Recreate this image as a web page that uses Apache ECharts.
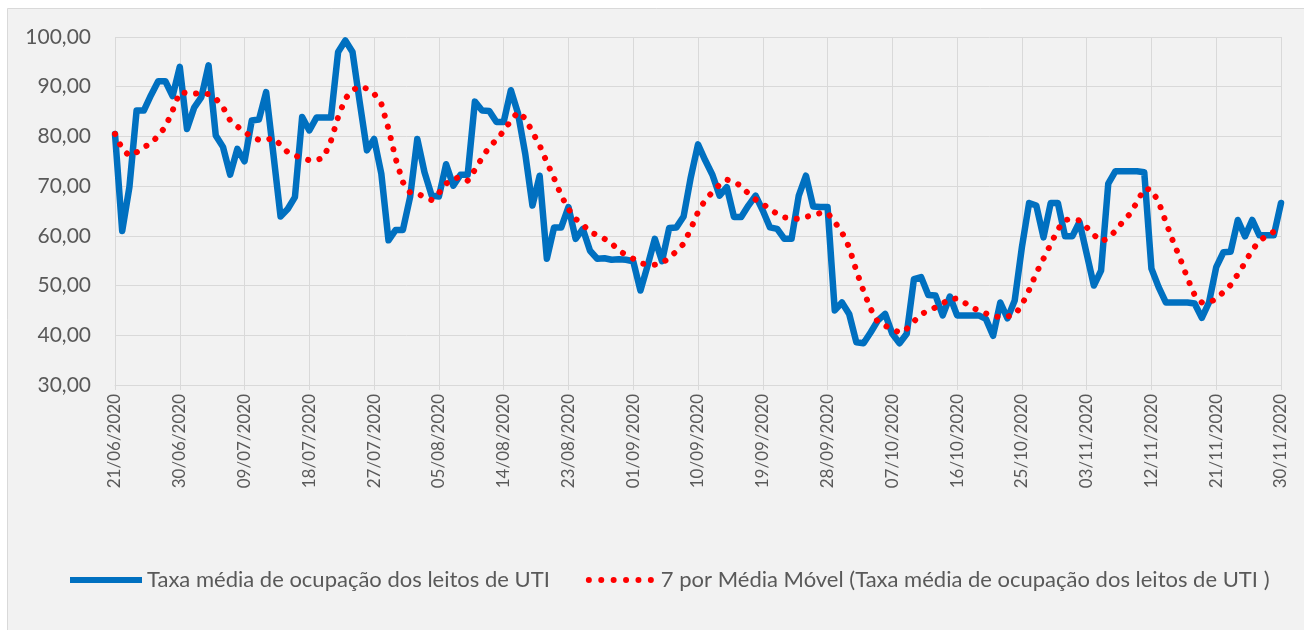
<!DOCTYPE html>
<html>
<head>
<meta charset="utf-8">
<script src="https://cdn.jsdelivr.net/npm/echarts@6/dist/echarts.min.js"></script>
<style>
html,body{margin:0;padding:0;background:#fff;}
#c{width:1304px;height:630px;}
</style>
</head>
<body>
<div id="c"></div>
<script>
// ---- data ----
const startDate = [2020, 6, 21];   // 21/06/2020
const dayCount = 163;               // 21/06/2020 .. 30/11/2020
const yTicks = [30, 40, 50, 60, 70, 80, 90, 100];
const seriesNames = [
  'Taxa média de ocupação dos leitos de UTI',
  '7 por Média Móvel (Taxa média de ocupação dos leitos de UTI )'
];
const taxa = [
  80.5,61.0,69.8,85.2,85.2,88.3,91.1,91.1,88.1,94.0,
  81.5,85.8,87.9,94.3,80.2,77.9,72.3,77.5,75.0,83.2,
  83.4,88.9,76.5,63.9,65.4,67.8,83.9,81.2,83.8,83.8,
  83.8,97.0,99.3,97.0,86.9,77.2,79.5,72.5,59.1,61.2,
  61.2,67.8,79.5,72.8,68.1,67.9,74.4,70.1,72.3,72.3,
  87.0,85.2,85.1,82.9,82.9,89.3,84.6,76.5,66.1,72.1,
  55.4,61.7,61.7,65.8,59.4,61.4,57.0,55.4,55.5,55.2,
  55.3,55.2,54.9,49.0,54.0,59.4,54.9,61.6,61.7,63.9,
  71.8,78.4,75.2,72.3,68.1,69.8,63.8,63.8,66.1,68.1,
  65.1,61.7,61.4,59.4,59.4,68.1,72.1,65.9,65.8,65.8,
  45.0,46.6,44.3,38.6,38.4,40.6,43.0,44.3,40.3,38.4,
  40.3,51.3,51.7,48.1,48.0,44.0,47.8,44.0,44.0,44.0,
  44.0,43.3,39.9,46.6,43.4,47.0,57.7,66.6,66.1,59.7,
  66.6,66.6,59.9,59.9,62.8,56.4,50.0,53.0,70.5,73.0,
  73.0,73.0,73.0,72.8,53.4,49.7,46.6,46.6,46.6,46.6,
  46.4,43.5,46.6,53.7,56.7,56.8,63.2,59.9,63.2,60.1,
  60.1,60.1,66.6
];
const mediaMovel = [
  80.5,77.5,76.1,76.8,77.9,78.5,80.2,81.9,85.2,88.9,
  88.7,88.6,88.7,88.5,87.6,85.9,83.2,82.0,80.9,79.9,
  79.3,79.3,79.7,78.3,76.8,76.1,75.7,75.2,75.2,75.8,
  79.1,83.9,87.6,89.3,90.1,89.6,88.6,86.6,81.5,75.5,
  70.8,68.7,68.5,67.8,67.2,68.6,70.5,71.5,71.8,71.1,
  73.3,75.7,77.9,79.3,81.1,83.2,84.9,83.6,80.9,78.2,
  74.8,71.6,68.1,65.4,63.4,62.3,60.7,60.2,59.4,58.5,
  57.0,56.2,55.4,54.5,54.2,54.2,54.5,55.6,56.9,58.4,
  61.4,64.8,67.2,68.8,70.3,71.3,70.9,70.0,68.5,67.3,
  66.4,65.4,64.4,63.7,63.5,63.4,63.8,64.2,64.6,64.6,
  62.8,60.7,57.7,53.0,48.9,45.3,42.6,41.9,41.3,40.5,
  41.3,42.8,44.2,45.0,45.6,46.4,47.3,47.4,46.6,45.6,
  45.0,44.4,43.9,43.6,43.8,44.1,46.1,49.1,52.5,55.4,
  58.3,61.3,63.2,63.4,63.1,61.7,60.2,58.9,59.5,61.0,
  62.8,64.4,66.8,69.5,69.3,66.8,62.8,58.9,55.4,51.5,
  48.1,46.6,46.6,47.3,48.7,50.1,52.3,54.6,57.2,58.9,
  60.1,60.8,61.4
];

// category labels (dd/mm/yyyy)
const categories = [];
for (let k = 0; k < dayCount; k++) {
  const d = new Date(startDate[0], startDate[1] - 1, startDate[2] + k);
  const dd = String(d.getDate()).padStart(2, '0');
  const mm = String(d.getMonth() + 1).padStart(2, '0');
  categories.push(dd + '/' + mm + '/' + d.getFullYear());
}

// legend icon: six round dots
let dotsPath = 'path://';
for (let k = 0; k < 6; k++) {
  const cx = 3 + k * 12.4;
  dotsPath += 'M' + (cx - 3) + ',3a3,3 0 1,0 6,0a3,3 0 1,0 -6,0Z';
}

const FONT = 'Lato, "Liberation Sans", sans-serif';
const chart = echarts.init(document.getElementById('c'), null, {renderer: 'canvas'});
chart.setOption({
  backgroundColor: '#ffffff',
  animation: false,
  graphic: [{
    type: 'rect', z: -10, silent: true,
    shape: {x: 7.5, y: 8.5, width: 1310, height: 640},
    style: {fill: '#f2f2f2', stroke: '#d9d9d9', lineWidth: 1}
  }],
  grid: {left: 115, right: 23, top: 37, bottom: 245},
  legend: {
    left: 65, top: 564,
    itemWidth: 72, itemHeight: 6, itemGap: 36,
    textStyle: {fontFamily: FONT, fontSize: 22, color: '#595959'},
    data: [
      {name: seriesNames[0], icon: 'rect'},
      {name: seriesNames[1], icon: dotsPath}
    ]
  },
  xAxis: {
    type: 'category',
    data: categories,
    boundaryGap: false,
    axisLine: {show: true, lineStyle: {color: '#d9d9d9', width: 1}},
    axisTick: {show: true, interval: 8, length: 5, lineStyle: {color: '#d9d9d9'}},
    splitLine: {show: true, interval: 8, lineStyle: {color: '#d9d9d9', width: 1}},
    axisLabel: {
      interval: 8, rotate: 90, margin: 9,
      fontFamily: FONT, fontSize: 17, color: '#595959'
    }
  },
  yAxis: {
    type: 'value',
    min: yTicks[0], max: yTicks[yTicks.length - 1], interval: 10,
    axisLine: {show: false},
    axisTick: {show: false},
    splitLine: {show: true, lineStyle: {color: '#d9d9d9', width: 1}},
    axisLabel: {
      margin: 24, fontFamily: FONT, fontSize: 21, color: '#595959',
      formatter: v => v.toFixed(2).replace('.', ',')
    }
  },
  series: [
    {
      name: seriesNames[0], type: 'line', data: taxa,
      symbol: 'none', smooth: false,
      lineStyle: {color: '#0070c0', width: 6.5, join: 'round', cap: 'round'},
      itemStyle: {color: '#0070c0'},
      z: 2
    },
    {
      name: seriesNames[1], type: 'line', data: mediaMovel,
      symbol: 'none', smooth: false,
      lineStyle: {color: '#ff0000', width: 6, type: [0.1, 11.5], cap: 'round', join: 'round'},
      itemStyle: {color: '#ff0000'},
      z: 3
    }
  ]
});
</script>
</body>
</html>
